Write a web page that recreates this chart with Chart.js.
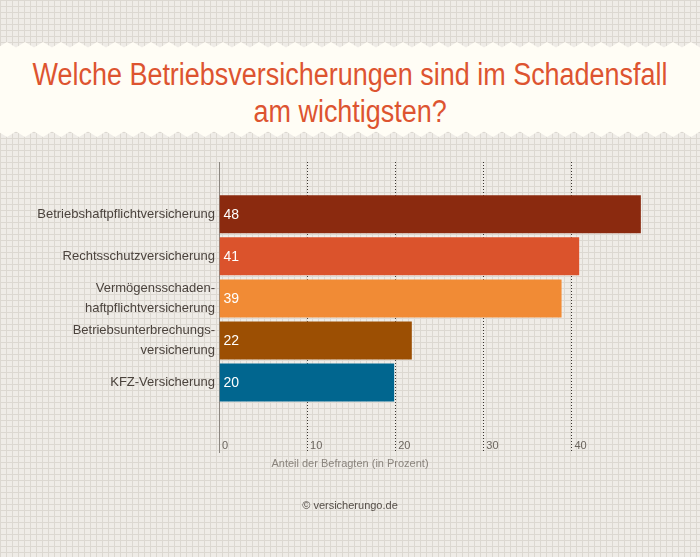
<!DOCTYPE html>
<html>
<head>
<meta charset="utf-8">
<script src="https://cdn.jsdelivr.net/npm/chart.js@4/dist/chart.umd.min.js"></script>
<style>
html,body{margin:0;padding:0;}
body{width:700px;height:557px;position:relative;overflow:hidden;
 background-color:#efece7;
 background-image:linear-gradient(#dcd8d1 1px, transparent 1px),linear-gradient(90deg,#dcd8d1 1px,transparent 1px);
 background-size:6px 6px;}
#band{position:absolute;left:0;top:0;}
#title{position:absolute;left:-150px;top:56px;width:1000px;margin:0;text-align:center;
 font-family:"Liberation Sans",Arial,sans-serif;
 font-weight:normal;font-size:31px;line-height:37px;color:#dd5430;}
#title span{display:inline-block;white-space:nowrap;transform:scaleX(0.87);transform-origin:50% 50%;}
#c{position:absolute;left:0;top:0;}
</style>
</head>
<body>
<svg id="band" width="700" height="150"><polygon id="bandPoly" fill="#fffdf5"/></svg>
<h1 id="title"><span>Welche Betriebsversicherungen sind im Schadensfall</span><br><span>am wichtigsten?</span></h1>
<canvas id="c" width="700" height="557"></canvas>
<script>
// ---- data ----
const categories = [
  'Betriebshaftpflichtversicherung',
  'Rechtsschutzversicherung',
  ['Vermögensschaden-', 'haftpflichtversicherung'],
  ['Betriebsunterbrechungs-', 'versicherung'],
  'KFZ-Versicherung'
];
const values = [48, 41, 39, 22, 20];
const xTickValues = [0, 10, 20, 30, 40];
const axisTitle = 'Anteil der Befragten (in Prozent)';
const sourceText = '© versicherungo.de';

// ---- styles ----
const barColors = ['#8b2a0f', '#db532c', '#f18b35', '#9c4f03', '#01668f'];
const FONT = '"Liberation Sans", Arial, sans-serif';

// decorative zigzag band behind the heading
(function(){
  const pts = [];
  for (let x = -11; x <= 720; x += 9) {
    const peak = ((((x - 7) / 9) % 2) + 2) % 2 === 0;
    pts.push(x + ',' + (peak ? 42 : 47.5));
  }
  for (let x = 718; x >= -20; x -= 9) {
    const peak = ((((x - 16) / 9) % 2) + 2) % 2 === 0;
    pts.push(x + ',' + (peak ? 131.5 : 137));
  }
  document.getElementById('bandPoly').setAttribute('points', pts.join(' '));
})();

const isZero = ctx => ctx.tick && ctx.tick.value === 0;
const gridColor = ctx => isZero(ctx) ? '#8c8781' : '#3b3631';
const gridDash = ctx => isZero(ctx) ? [] : [1, 2];
const xTickLabel = v => xTickValues.includes(v) ? String(v) : null;
const yTickLabel = v => (Number.isInteger(v) && categories[v] !== undefined) ? categories[v] : null;

const valueLabels = {
  id: 'valueLabels',
  afterDatasetsDraw(chart) {
    const ctx = chart.ctx;
    const meta = chart.getDatasetMeta(0);
    ctx.save();
    ctx.font = '14px ' + FONT;
    ctx.fillStyle = '#ffffff';
    ctx.textAlign = 'left';
    ctx.textBaseline = 'middle';
    meta.data.forEach((bar, i) => {
      ctx.fillText(String(values[i]), bar.base + 4, bar.y + 1);
    });
    ctx.restore();
  }
};

new Chart(document.getElementById('c'), {
  type: 'bar',
  data: {
    datasets: [{
      data: values.map((v, i) => ({x: v, y: i})),
      backgroundColor: barColors,
      borderColor: 'rgba(255,255,255,0.28)',
      borderWidth: 1,
      barPercentage: 0.952,
      categoryPercentage: 1
    }]
  },
  options: {
    indexAxis: 'y',
    responsive: false,
    animation: false,
    devicePixelRatio: 1,
    layout: {padding: {top: 162, right: 0, bottom: 34, left: 0}},
    scales: {
      x: {
        type: 'linear', position: 'bottom', min: 0, max: 54.6, offset: false,
        grid: {color: gridColor, lineWidth: 1, drawTicks: false, drawOnChartArea: true, offset: false},
        border: {display: false, dash: gridDash},
        ticks: {stepSize: 10, autoSkip: false, callback: xTickLabel, mirror: true,
                align: 'start', labelOffset: 3, padding: 1,
                font: {family: FONT, size: 11}, color: '#6b655e'}
      },
      y: {
        type: 'linear', reverse: true, min: -1.245, max: 5.683, offset: false,
        grid: {display: false, drawTicks: false, offset: false},
        border: {display: false},
        ticks: {stepSize: 1, autoSkip: false, callback: yTickLabel, padding: 4,
                font: {family: FONT, size: 13, lineHeight: 1.5}, color: '#4b433d'},
        afterFit: s => { s.width = 219; }
      }
    },
    plugins: {
      legend: {display: false},
      tooltip: {enabled: false},
      subtitle: {display: true, position: 'bottom', text: axisTitle,
                 color: '#8a847d', font: {family: FONT, size: 11},
                 padding: {top: 2.4, bottom: 0}},
      title: {display: true, position: 'bottom', text: sourceText,
              color: '#554e48', font: {family: FONT, size: 11, weight: 'normal'},
              padding: {top: 29, bottom: 10}}
    }
  },
  plugins: [valueLabels]
});
</script>
</body>
</html>
